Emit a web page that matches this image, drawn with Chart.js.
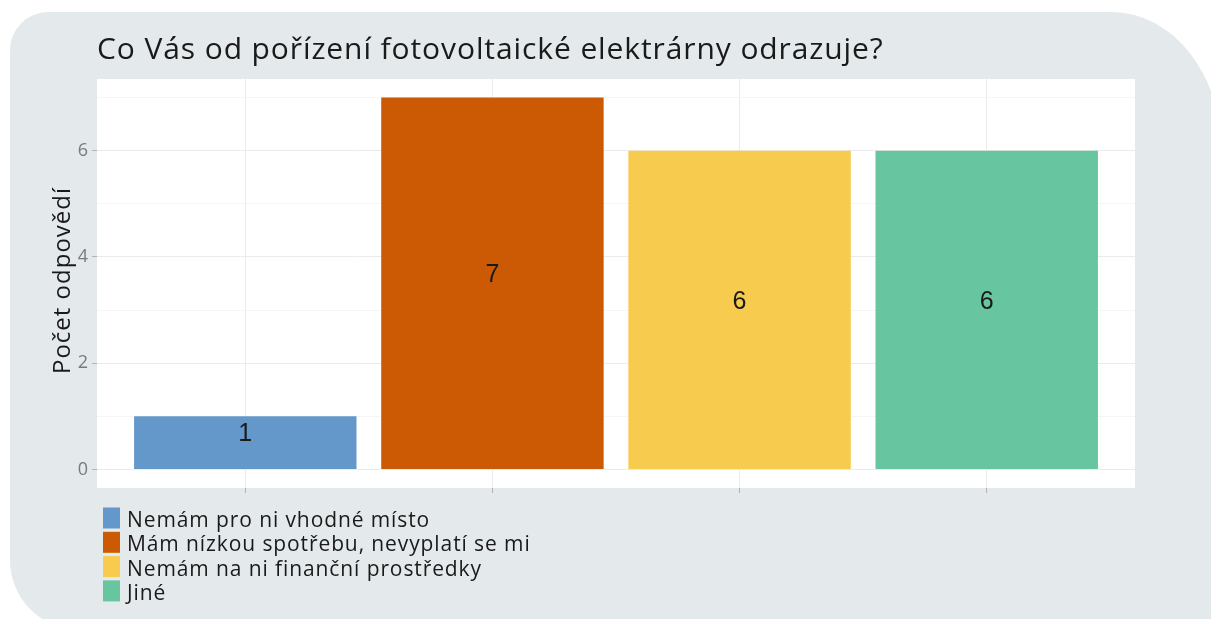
<!DOCTYPE html>
<html>
<head>
<meta charset="utf-8">
<script src="https://cdn.jsdelivr.net/npm/chart.js@4.4.1/dist/chart.umd.min.js"></script>
<style>
  html, body { margin: 0; padding: 0; background: #ffffff; overflow: hidden; }
  #wrap { position: relative; width: 1211px; height: 619px; overflow: hidden; }
  #panel { position: absolute; left: 10px; top: 12px; width: 1212px; height: 618px;
           background: #e4e9eb; border-radius: 38px 110px 0 70px / 38px 140px 0 70px; }
  #c { position: absolute; left: 0; top: 0; }
</style>
</head>
<body>
<div id="wrap">
  <div id="panel"></div>
  <canvas id="c" width="1211" height="619"></canvas>
</div>
<script>
const chartTitle = 'Co Vás od pořízení fotovoltaické elektrárny odrazuje?';
const yTitle = 'Počet odpovědí';
const categories = [
  'Nemám pro ni vhodné místo',
  'Mám nízkou spotřebu, nevyplatí se mi',
  'Nemám na ni finanční prostředky',
  'Jiné'
];
const counts = [1, 7, 6, 6];
const barColors = ['#6497CA', '#CC5A04', '#F7CB4D', '#67C5A0'];
const yGridValues = [0, 1, 2, 3, 4, 5, 6, 7];
const yTickLabels = [0, 2, 4, 6];

const FONT = '"Open Sans", "Noto Sans", sans-serif';

const plotBg = {
  id: 'plotBg',
  beforeDraw(chart) {
    const {ctx, chartArea: a} = chart;
    ctx.save();
    ctx.fillStyle = '#ffffff';
    ctx.fillRect(a.left, a.top, a.right - a.left, a.bottom - a.top);
    ctx.restore();
  }
};

const textPlugin = {
  id: 'textPlugin',
  afterDraw(chart) {
    const {ctx, chartArea: a} = chart;
    ctx.save();
    ctx.font = '30px ' + FONT;
    ctx.letterSpacing = '0.9px';
    ctx.fillStyle = '#1a1a1a';
    ctx.textBaseline = 'alphabetic';
    ctx.textAlign = 'left';
    ctx.fillText(chartTitle, a.left, 59);
    ctx.restore();

    ctx.save();
    ctx.font = '24px ' + FONT;
    ctx.letterSpacing = '1px';
    ctx.fillStyle = '#1a1a1a';
    ctx.textAlign = 'center';
    ctx.textBaseline = 'middle';
    ctx.translate(63, (a.top + a.bottom) / 2 - 3);
    ctx.rotate(-Math.PI / 2);
    ctx.fillText(yTitle, 0, 0);
    ctx.restore();
  }
};

const barLabels = {
  id: 'barLabels',
  afterDatasetsDraw(chart) {
    const {ctx} = chart;
    const meta = chart.getDatasetMeta(0);
    ctx.save();
    ctx.font = '25px "Liberation Sans", Arial, sans-serif';
    ctx.fillStyle = '#1a1a1a';
    ctx.textAlign = 'center';
    ctx.textBaseline = 'middle';
    meta.data.forEach((bar, i) => {
      const y = (bar.y + bar.base) / 2 - 8;
      ctx.fillText(String(counts[i]), bar.x, y);
    });
    ctx.restore();
  }
};

const legendPlugin = {
  id: 'legendPlugin',
  afterDraw(chart) {
    const {ctx} = chart;
    ctx.save();
    ctx.font = '21px ' + FONT;
    ctx.letterSpacing = '0.9px';
    ctx.textBaseline = 'alphabetic';
    ctx.textAlign = 'left';
    categories.forEach((lab, i) => {
      const cy = 518 + i * 24.3;
      ctx.fillStyle = barColors[i];
      ctx.fillRect(103, cy - 10.5, 17, 21);
      ctx.fillStyle = '#1a1a1a';
      ctx.fillText(lab, 127, cy + 9);
    });
    ctx.restore();
  }
};

new Chart(document.getElementById('c'), {
  type: 'bar',
  data: {
    labels: categories,
    datasets: [{
      data: counts.map((v, i) => ({x: i, y: v})),
      backgroundColor: barColors,
      borderWidth: 0,
      categoryPercentage: 1,
      barPercentage: 0.9
    }]
  },
  plugins: [plotBg, textPlugin, barLabels, legendPlugin],
  options: {
    responsive: false,
    animation: false,
    events: [],
    layout: { padding: { left: 0, top: 79, right: 76, bottom: 121 } },
    plugins: { legend: { display: false }, title: { display: false }, tooltip: { enabled: false } },
    scales: {
      x: {
        type: 'linear',
        min: -0.6,
        max: 3.6,
        offset: false,
        border: { display: false },
        grid: { offset: false, color: '#ebebeb', lineWidth: 1, tickColor: '#b3b3b3', tickLength: 5, drawTicks: true },
        ticks: { stepSize: 1, callback: () => '', display: true },
        afterBuildTicks(scale) {
          scale.ticks = categories.map((c, i) => ({value: i}));
        },
        afterFit(scale) { scale.height = 10; }
      },
      y: {
        type: 'linear',
        min: -0.35,
        max: 7.35,
        border: { display: false },
        grid: {
          color: c => (c.tick && c.tick.value % 2 === 0) ? '#ebebeb' : '#f5f5f5',
          tickColor: c => (c.tick && c.tick.value % 2 === 0) ? '#b3b3b3' : 'rgba(0,0,0,0)',
          tickLength: 5,
          lineWidth: 1
        },
        ticks: {
          stepSize: 1,
          padding: 4,
          color: '#7a7a7a',
          font: { size: 18, family: FONT },
          callback: v => yTickLabels.includes(v) ? String(v) : ''
        },
        afterBuildTicks(scale) {
          scale.ticks = yGridValues.map(v => ({value: v}));
        },
        afterFit(scale) { scale.width = 97; }
      }
    }
  }
});
</script>
</body>
</html>
